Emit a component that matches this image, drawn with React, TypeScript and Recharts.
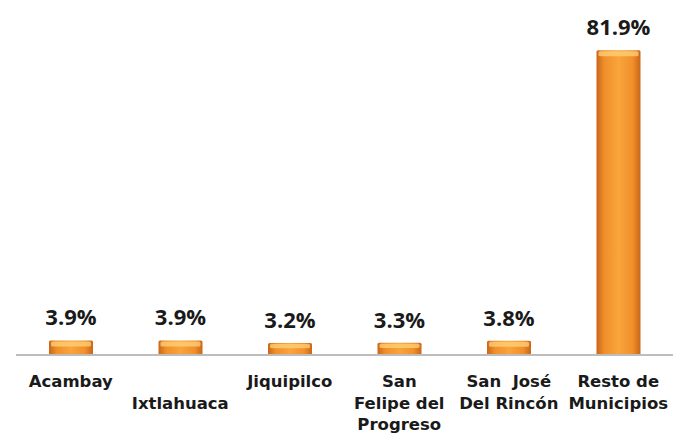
import React from "react";
import { BarChart, Bar, XAxis, YAxis, LabelList } from "recharts";

const categories = ["Acambay", "Ixtlahuaca", "Jiquipilco", "San Felipe del Progreso", "San José Del Rincón", "Resto de Municipios"];
const tickLines = [
  ["Acambay"],
  ["", "Ixtlahuaca"],
  ["Jiquipilco"],
  ["San", "Felipe del", "Progreso"],
  ["San  José", "Del Rincón"],
  ["Resto de", "Municipios"],
];
const values = [3.9, 3.9, 3.2, 3.3, 3.8, 81.9];

const data = categories.map((name, i) => ({ name, value: values[i] }));

const LABEL_FONT = "'Open Sans', sans-serif";
const TICK_FONT = "'DejaVu Sans', sans-serif";

function CategoryTick(props: any) {
  const { x, y, index } = props;
  const lines = tickLines[index] || [];
  return (
    <g transform={`translate(${x},${y})`}>
      {lines.map((l, i) => (
        <text
          key={i}
          x={0}
          y={i * 21.5 + 24}
          textAnchor="middle"
          fill="#1a1a1a"
          fontSize={16.5}
          fontWeight={700}
          fontFamily={TICK_FONT}
          style={{ whiteSpace: "pre" }}
        >
          {l}
        </text>
      ))}
    </g>
  );
}

function BarShape(props: any) {
  const { x, y, width, height } = props;
  if (!height || height <= 0) return null;
  const hl = Math.min(5, height * 0.35);
  return (
    <g>
      <rect x={x} y={y} width={width} height={height} fill="url(#barGrad)" rx={1.5} />
      <rect x={x + 2} y={y + 1} width={width - 4} height={hl} fill="#ffd27a" opacity={0.75} rx={1.5} />
    </g>
  );
}

export default function App() {
  return (
    <div style={{ position: "absolute", left: 0, top: 0, background: "#fff" }}>
      <BarChart width={675} height={435} data={data} margin={{ top: 50, right: 2, left: 16, bottom: 0 }} barCategoryGap={0}>
        <defs>
          <linearGradient id="barGrad" x1="0" y1="0" x2="1" y2="0">
            <stop offset="0%" stopColor="#c9661a" />
            <stop offset="18%" stopColor="#f0902a" />
            <stop offset="50%" stopColor="#f9a43c" />
            <stop offset="82%" stopColor="#f0902a" />
            <stop offset="100%" stopColor="#c9661a" />
          </linearGradient>
        </defs>
        <XAxis
          dataKey="name"
          interval={0}
          height={80}
          tickLine={false}
          axisLine={{ stroke: "#bdbdbd", strokeWidth: 2 }}
          tick={<CategoryTick />}
        />
        <YAxis hide domain={[0, 82]} />
        <Bar dataKey="value" barSize={44} shape={<BarShape />} isAnimationActive={false}>
          <LabelList
            dataKey="value"
            position="top"
            offset={15}
            formatter={(v: any) => `${Number(v).toFixed(1)}%`}
            style={{ fill: "#1a1a1a", fontSize: 22, fontWeight: 700, fontFamily: LABEL_FONT }}
          />
        </Bar>
      </BarChart>
    </div>
  );
}
